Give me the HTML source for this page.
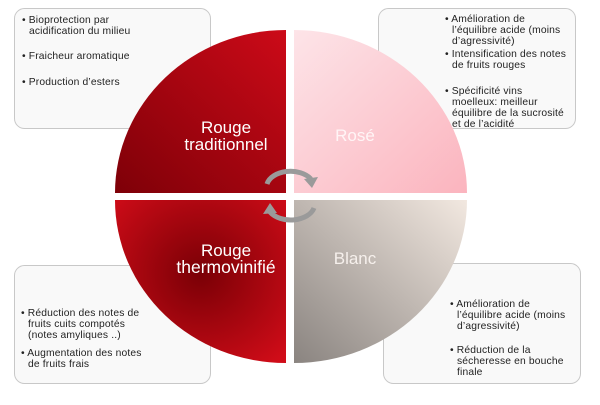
<!DOCTYPE html>
<html><head><meta charset="utf-8"><style>
body{margin:0;background:#fff;width:600px;height:400px;overflow:hidden;font-family:"Liberation Sans",sans-serif}
</style></head><body>
<svg width="600" height="400" viewBox="0 0 600 400" xmlns="http://www.w3.org/2000/svg" font-family="Liberation Sans, sans-serif">
<defs>
<linearGradient id="tl" x1="0" y1="1" x2="1" y2="0"><stop offset="0" stop-color="#7e0008"/><stop offset="1" stop-color="#cc0a18"/></linearGradient>
<linearGradient id="tr" x1="0" y1="0" x2="1" y2="1"><stop offset="0" stop-color="#fde4e8"/><stop offset="1" stop-color="#fbb4be"/></linearGradient>
<radialGradient id="bl" cx="0.5" cy="0.45" r="0.7"><stop offset="0" stop-color="#7a0006"/><stop offset="1" stop-color="#d00c18"/></radialGradient>
<linearGradient id="br" x1="0" y1="1" x2="1" y2="0"><stop offset="0" stop-color="#8a8480"/><stop offset="1" stop-color="#f2e8e0"/></linearGradient>
</defs>
<g fill="#f9f9f9" stroke="#c8c8c8" stroke-width="1">
<rect x="14.5" y="8.5" width="196" height="120" rx="10"/>
<rect x="378.5" y="8.5" width="197" height="120" rx="10"/>
<rect x="14.5" y="265.5" width="196" height="118" rx="10"/>
<rect x="383.5" y="263.5" width="197" height="120" rx="10"/>
</g>
<path d="M286 193 L115 193 A171 163 0 0 1 286 30 Z" fill="url(#tl)"/>
<path d="M294 193 L294 30 A173 163 0 0 1 467 193 Z" fill="url(#tr)"/>
<path d="M286 200 L286 363 A171 163 0 0 1 115 200 Z" fill="url(#bl)"/>
<path d="M294 200 L467 200 A173 163 0 0 1 294 363 Z" fill="url(#br)"/>
<g fill="#fff" font-size="17" text-anchor="middle">
<text x="226" y="133">Rouge</text><text x="226" y="150">traditionnel</text>
<text x="355" y="141" fill="#fff5f6">Rosé</text>
<text x="226" y="256">Rouge</text><text x="226" y="273" font-size="17.5">thermovinifié</text>
<text x="355" y="264" fill="#f6f0ec">Blanc</text>
</g>
<g fill="none" stroke="#9a9a9a" stroke-width="5">
<path d="M267 184 A24 16 0 0 1 311 179"/>
<path d="M314 208 A24 16 0 0 1 270 212"/>
</g>
<polygon points="304,179 318,177 312,188" fill="#9a9a9a"/>
<polygon points="277,213 263,214 270,203" fill="#9a9a9a"/>
<g font-size="10.3" fill="#222" letter-spacing="0.15">
<text x="22" y="23">• Bioprotection par</text><text x="29" y="34">acidification du milieu</text>
<text x="22" y="59">• Fraicheur aromatique</text>
<text x="22" y="85">• Production d’esters</text>
<text x="445" y="22">• Amélioration de</text><text x="452" y="33">l’équilibre acide (moins</text><text x="452" y="44">d’agressivité)</text>
<text x="445" y="57">• Intensification des notes</text><text x="452" y="68">de fruits rouges</text>
<text x="445" y="94">• Spécificité vins</text><text x="452" y="105">moelleux: meilleur</text><text x="452" y="116">équilibre de la sucrosité</text><text x="452" y="127">et de l’acidité</text>
<text x="21" y="316">• Réduction des notes de</text><text x="28" y="327">fruits cuits compotés</text><text x="28" y="338">(notes amyliques ..)</text>
<text x="21" y="356">• Augmentation des notes</text><text x="28" y="367">de fruits frais</text>
<text x="450" y="307">• Amélioration de</text><text x="457" y="318">l’équilibre acide (moins</text><text x="457" y="329">d’agressivité)</text>
<text x="450" y="353">• Réduction de la</text><text x="457" y="364">sécheresse en bouche</text><text x="457" y="375">finale</text>
</g>
</svg>
</body></html>
